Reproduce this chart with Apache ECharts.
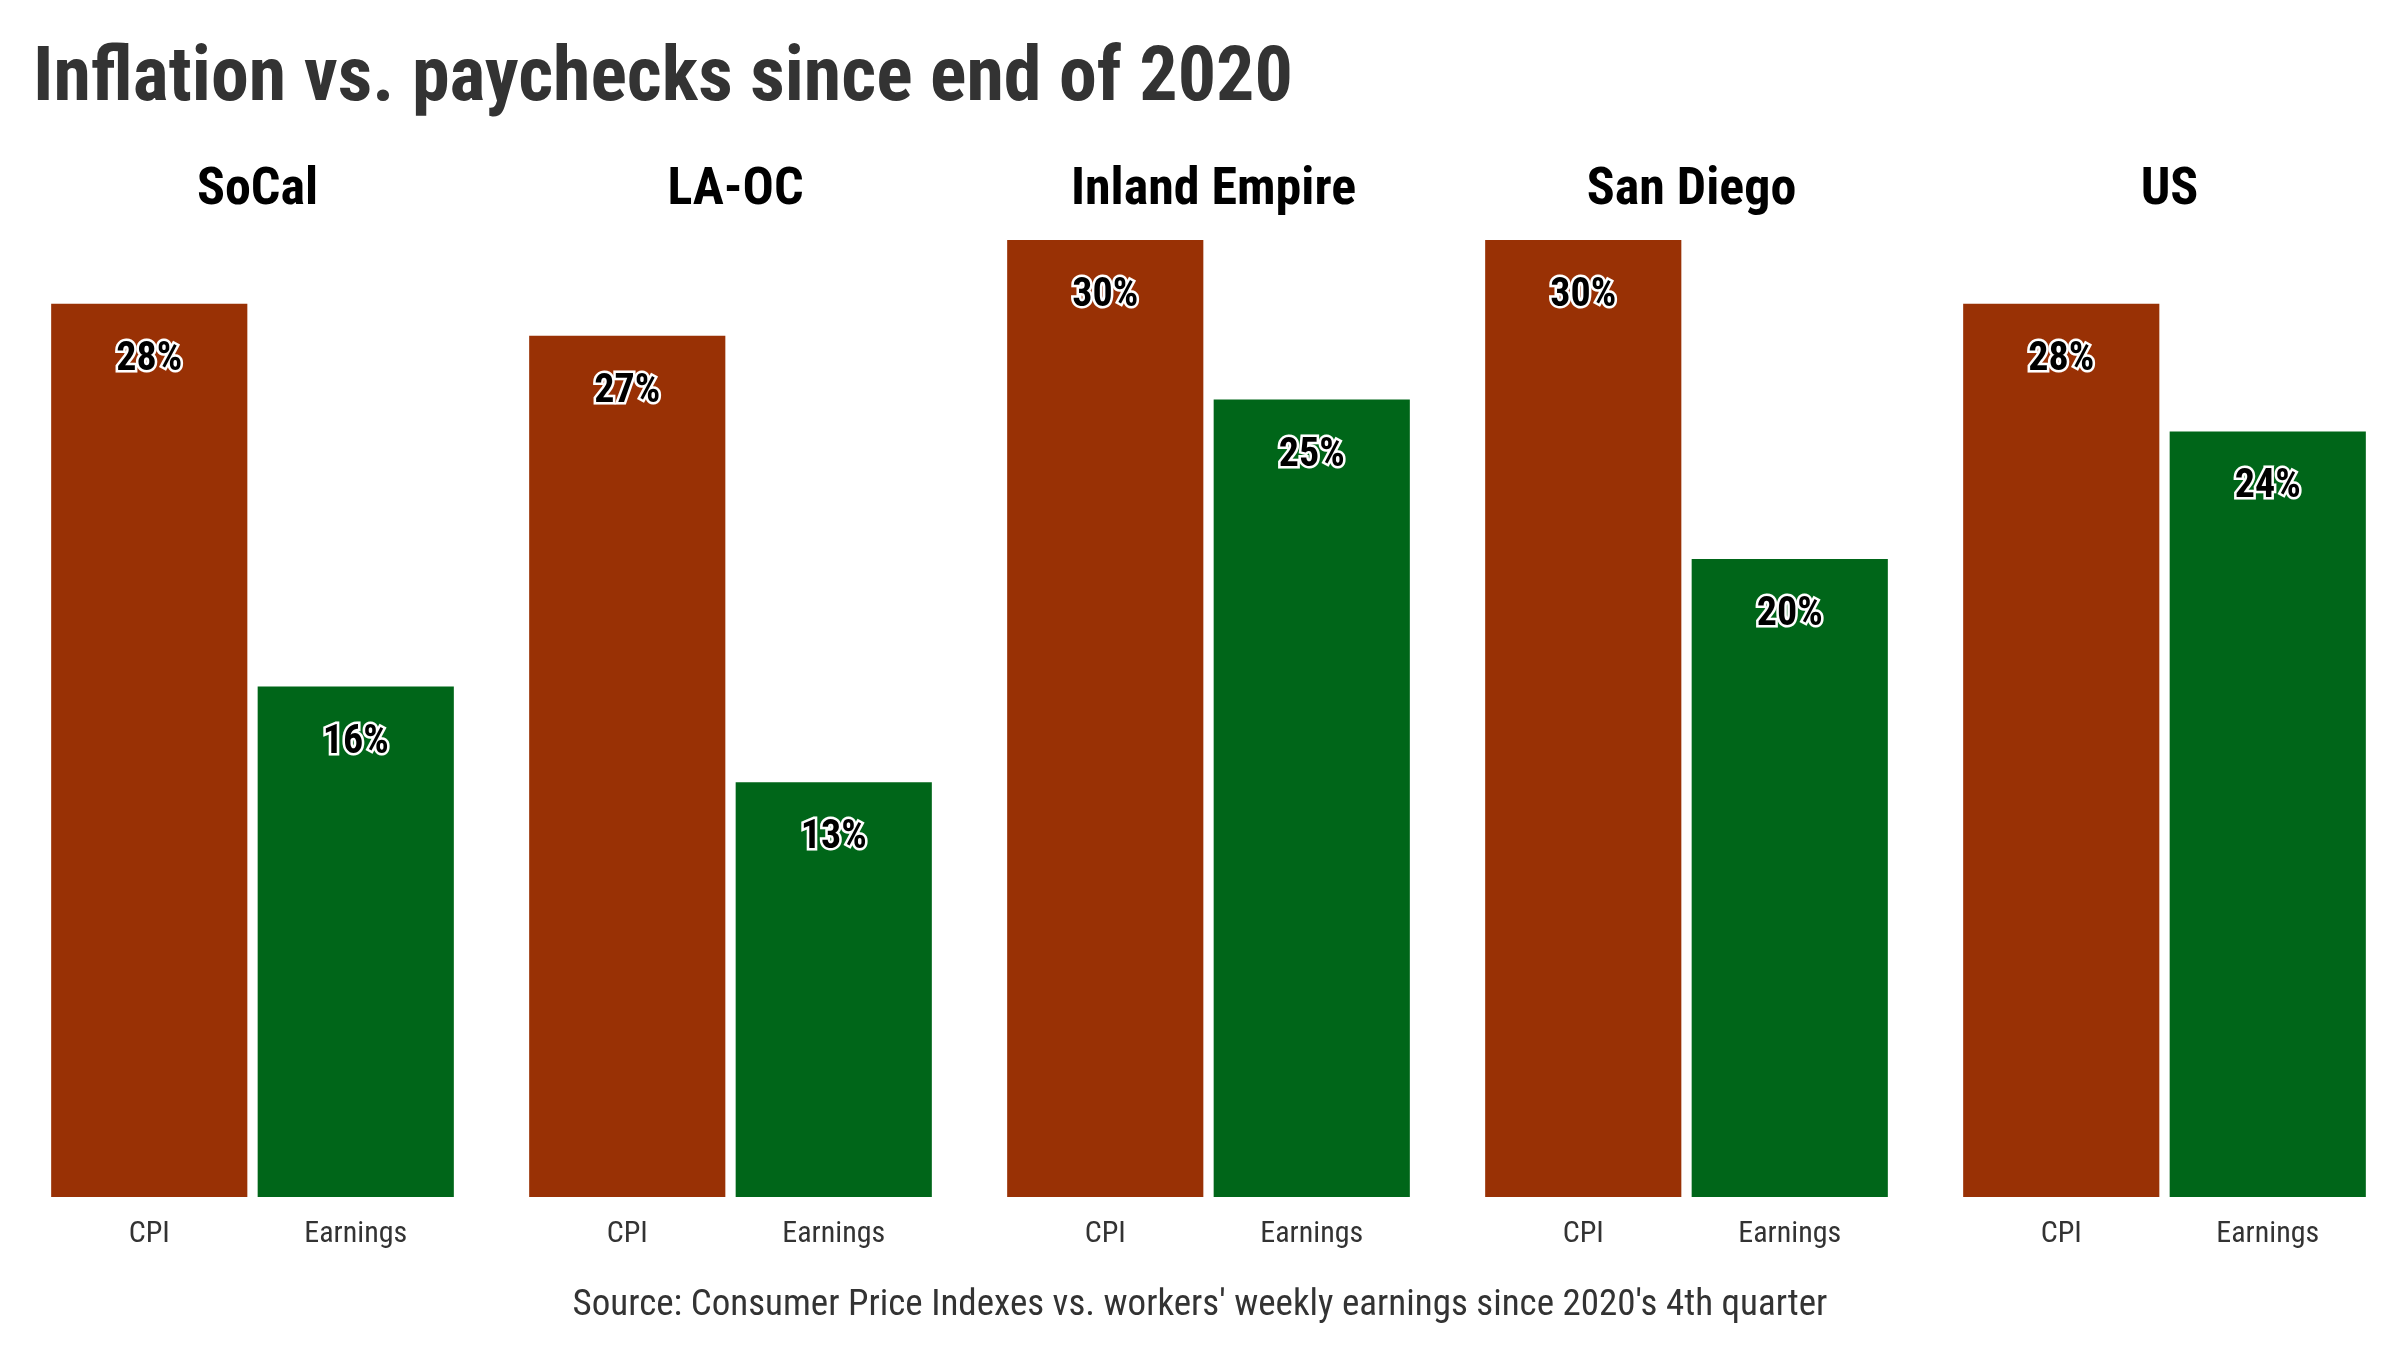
<!DOCTYPE html>
<html><head><meta charset="utf-8">
<script src="https://cdn.jsdelivr.net/npm/echarts@6/dist/echarts.min.js"></script>
<style>html,body{margin:0;padding:0;background:#fff}#c{width:2400px;height:1350px}</style>
</head><body><div id="c"></div>
<script>
const regions = ["SoCal","LA-OC","Inland Empire","San Diego","US"];
const categories = ["CPI","Earnings"];
const cpi = [28,27,30,30,28];
const earnings = [16,13,25,20,24];
const FONT = "'Roboto Condensed','Liberation Sans Narrow','Roboto',sans-serif";
const colors = ["#993105","#006619"];
const grids=[],xAxes=[],yAxes=[],series=[],titles=[];
titles.push({text:"Inflation vs. paychecks since end of 2020",left:28,top:38,textStyle:{fontFamily:FONT,fontSize:76,fontWeight:'bold',color:'#333'}});
titles.push({text:"Source: Consumer Price Indexes vs. workers' weekly earnings since 2020's 4th quarter",left:'center',top:1282,textStyle:{fontFamily:FONT,fontSize:37,fontWeight:'normal',color:'#333'}});
regions.forEach((r,i)=>{
  const left=46+i*478, w=413;
  grids.push({left:left,width:w,top:240,height:957});
  titles.push({text:r,left:left+w/2,textAlign:'center',top:160,textStyle:{fontFamily:FONT,fontSize:52,fontWeight:'bold',color:'#000'}});
  xAxes.push({type:'category',gridIndex:i,data:categories,axisLine:{show:false},axisTick:{show:false},axisLabel:{fontFamily:FONT,fontSize:30,color:'#333',margin:22}});
  yAxes.push({type:'value',gridIndex:i,min:0,max:30,show:false,splitLine:{show:false}});
  series.push({type:'bar',xAxisIndex:i,yAxisIndex:i,barCategoryGap:'5%',
    data:[{value:cpi[i],itemStyle:{color:colors[0]}},{value:earnings[i],itemStyle:{color:colors[1]}}],
    label:{show:true,position:'insideTop',distance:36,formatter:'{c}%',fontFamily:FONT,fontSize:40,fontWeight:'bold',color:'#000',textBorderColor:'#fff',textBorderWidth:5}});
});
const chart=echarts.init(document.getElementById('c'));
chart.setOption({animation:false,title:titles,grid:grids,xAxis:xAxes,yAxis:yAxes,series:series});
</script></body></html>
